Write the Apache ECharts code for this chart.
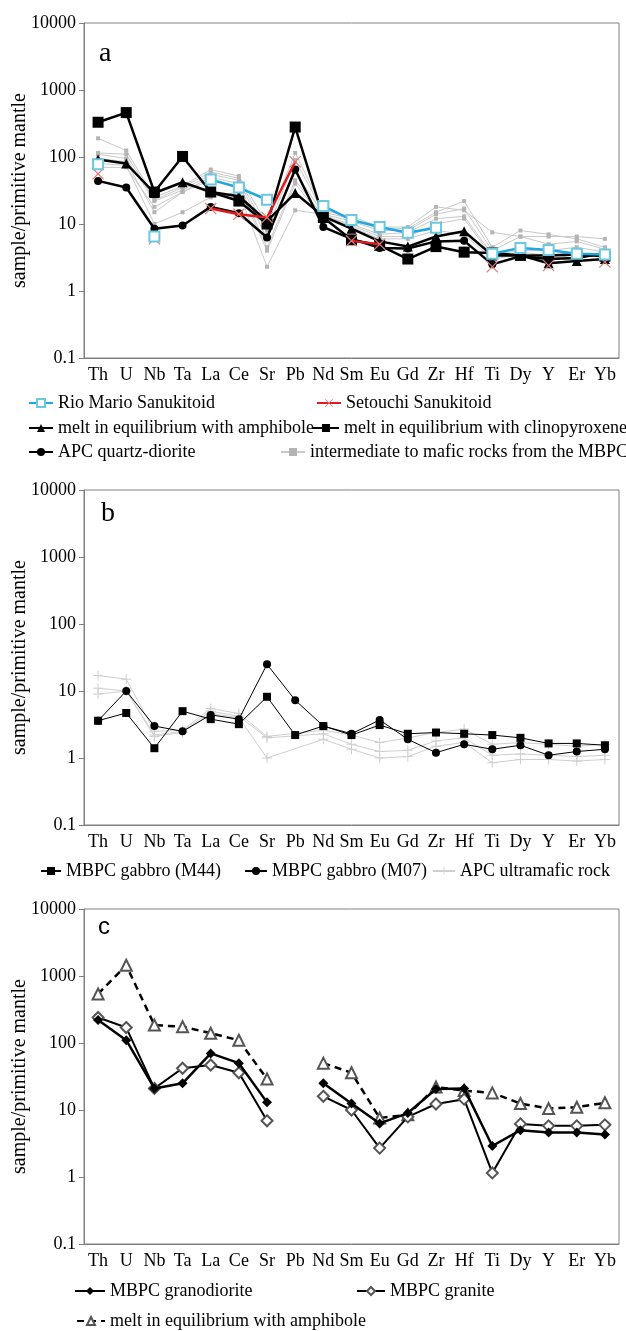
<!DOCTYPE html>
<html>
<head>
<meta charset="utf-8">
<script src="https://cdn.jsdelivr.net/npm/echarts@6/dist/echarts.min.js"></script>
<style>
  html, body { margin: 0; padding: 0; background: #fff; }
  #chart { width: 626px; height: 1331px; }
</style>
</head>
<body>
<div id="chart"></div>
<script>
// element order on the x axis
var elements = ['Th', 'U', 'Nb', 'Ta', 'La', 'Ce', 'Sr', 'Pb', 'Nd', 'Sm', 'Eu', 'Gd', 'Zr', 'Hf', 'Ti', 'Dy', 'Y', 'Er', 'Yb'];
var yTicks = [0.1, 1, 10, 100, 1000, 10000];

// panel a
var rioMario      = [78, null, 6.5, null, 46, 35, 23, null, 18.5, 11.5, 9, 7.4, 8.8, null, 3.6, 4.4, 4.1, 3.6, 3.5];
var setouchi      = [56, null, 6, null, 17, 14, 12.5, 85, null, 5.6, 5.0, null, 9, null, 2.3, null, 2.4, null, 2.7];
var amphMeltA     = [92, 80, 29, 42, 30, 26, 11, 29, 13, 8.5, 5.5, 4.6, 6.5, 7.8, 3.4, 3.4, 2.6, 2.8, 3.0];
var cpxMelt       = [330, 460, 30, 102, 30, 22, 10, 280, 12.5, 5.8, 4.8, 3.0, 4.6, 3.8, 3.7, 3.4, 3.4, 3.5, 3.3];
var apcQtzDiorite = [44, 35, 8.5, 9.5, 18, 14.5, 6.3, 65, 9, 6, 4.4, 4.3, 5.5, 5.6, 2.5, 3.3, 3.0, 3.1, 3.7];
var mbpcInter1    = [190, 125, 25, 37, 65, 52, 10, 115, 16, 13, 9, 9, 18, 16, 7.5, 6.5, 6.5, 6.5, 6.0];
var mbpcInter2    = [115, 110, 23, 35, 60, 48, 8, 90, 15, 12, 8.5, 8.5, 15, 22, 4.5, 8, 7, 6, 4.5];
var mbpcInter3    = [110, 95, 22, 32, 55, 45, 6, 60, 14, 11, 8, 8, 14, 17, 4, 6.5, 5, 5.5, 4.2];
var mbpcInter4    = [95, 85, 15, 30, 50, 40, 4.5, 45, 13, 10, 7, 7.5, 12, 13, 3.5, 4, 4, 4.5, 3.8];
var mbpcInter5    = [80, 75, 10, 15, 25, 30, 2.3, 16, 14, 9, 6, 6, 8, 7, 3, 3.5, 3, 3.5, 3.5];
var mbpcInter6    = [70, 70, 18, 30, 45, 35, 4, 40, 12, 9.5, 6.5, 6.5, 10, 12, 3.2, 3.8, 3.4, 3.8, 3.2];

// panel b
var gabbroM44  = [3.6, 4.7, 1.4, 5.0, 3.8, 3.2, 8.2, 2.2, 3.0, 2.2, 3.1, 2.3, 2.4, 2.3, 2.2, 2.0, 1.65, 1.65, 1.55];
var gabbroM07  = [3.6, 10, 3.0, 2.5, 4.4, 3.8, 25, 7.3, 3.0, 2.3, 3.7, 1.9, 1.2, 1.6, 1.35, 1.55, 1.1, 1.25, 1.35];
var apcUltra1  = [17, 15, 2.5, 2.6, 5.5, 4.6, 2.1, null, 2.6, 2.2, 1.7, 2.0, 2.4, 2.7, 1.6, 1.7, 1.6, 1.5, 1.6];
var apcUltra2  = [11, 10, 2.2, 2.5, 5.0, 4.2, 2.0, null, 2.3, 1.6, 1.25, 1.3, 1.8, 2.0, 1.1, 1.15, 1.1, 1.05, 1.1];
var apcUltra3  = [9, 10, 2.1, 2.4, 4.6, 4.0, 1.0, null, 1.9, 1.35, 1.0, 1.05, 1.5, 1.7, 0.85, 0.95, 0.95, 0.9, 0.95];

// panel c
var amphMeltC    = [540, 1450, 185, 175, 140, 110, 29, null, 50, 36, 7.6, 8.5, 22, 19.5, 18, 12.5, 10.5, 11, 12.8];
var granodiorite = [220, 110, 21, 25, 70, 50, 13, null, 25, 12.5, 6.3, 9, 20.5, 21, 2.9, 5.0, 4.6, 4.6, 4.3];
var granite      = [240, 170, 21, 42, 47, 36, 6.9, null, 16, 10, 2.7, 7.9, 12.3, 14.5, 1.15, 6.2, 5.8, 5.8, 6.0];

var serif = 'Liberation Serif';
var plusPath = 'path://M4.5,0h1v4.5h4.5v1h-4.5v4.5h-1v-4.5h-4.5v-1h4.5z';
var crossPath = 'path://M0,0.7L0.7,0L5,4.3L9.3,0L10,0.7L5.7,5L10,9.3L9.3,10L5,5.7L0.7,10L0,9.3L4.3,5Z';

var myChart = echarts.init(document.getElementById('chart'));

var tops = [23, 490, 909];

function makeGrid(top) {
    return {
        left: 84, right: 7, top: top, height: 335, show: true,
        borderColor: '#808080', borderWidth: 1,
        containLabel: false, outerBoundsMode: 'none'
    };
}

function makeX(i) {
    return {
        type: 'category', gridIndex: i, data: elements, boundaryGap: true,
        axisLine: { lineStyle: { color: '#808080' } },
        axisTick: { alignWithLabel: true, length: 5, lineStyle: { color: '#808080' } },
        axisLabel: { fontFamily: serif, fontSize: 18, color: '#000', margin: 8, interval: 0 },
        splitLine: { show: false }
    };
}

function makeY(i) {
    return {
        type: 'log', logBase: 10, gridIndex: i, min: yTicks[0], max: yTicks[yTicks.length - 1],
        splitNumber: 5,
        name: 'sample/primitive mantle', nameLocation: 'middle', nameGap: 54, nameMoveOverlap: false,
        nameTextStyle: { fontFamily: serif, fontSize: 20, color: '#000' },
        axisLine: { show: true, lineStyle: { color: '#808080' } },
        axisTick: { show: true, length: 5, lineStyle: { color: '#808080' } },
        axisLabel: {
            fontFamily: serif, fontSize: 18, color: '#000', margin: 8,
            formatter: function (v) {
                var k = Math.round(Math.log10(v));
                return k < 0 ? '0.1' : String(Math.pow(10, k));
            }
        },
        splitLine: { show: false }
    };
}

function line(name, data, i, opt) {
    var s = {
        name: name, type: 'line', xAxisIndex: i, yAxisIndex: i, data: data,
        connectNulls: !!opt.connect, animation: false,
        symbol: opt.symbol, symbolSize: opt.size,
        lineStyle: { color: opt.color, width: opt.width, type: opt.dash || 'solid' },
        itemStyle: { color: opt.fill || opt.color, borderWidth: opt.bw || 0 },
        z: opt.z || 2
    };
    if (opt.bw) s.itemStyle.borderColor = opt.fill || opt.color;
    return s;
}

function legendAt(name, left, top, w) {
    return {
        data: [name], left: left, top: top, padding: 0, itemWidth: w, itemHeight: 10, itemGap: 7,
        selectedMode: false,
        textStyle: { fontFamily: serif, fontSize: 18, color: '#000' },
        formatter: function (n) { return n.replace(' (c)', ''); }
    };
}

var interName = 'intermediate to mafic rocks from the MBPC';
var interStyle = { symbol: 'rect', size: 4, color: '#c8c8c8', fill: '#b4b4b4', width: 1, z: 1 };
var ultraName = 'APC ultramafic rock';
var ultraStyle = { symbol: plusPath, size: 10, color: '#cfcfcf', width: 1, z: 1 };

var series = [
    line(interName, mbpcInter1, 0, interStyle),
    line(interName, mbpcInter2, 0, interStyle),
    line(interName, mbpcInter3, 0, interStyle),
    line(interName, mbpcInter4, 0, interStyle),
    line(interName, mbpcInter5, 0, interStyle),
    line(interName, mbpcInter6, 0, interStyle),
    line('melt in equilibrium with amphibole', amphMeltA, 0, { symbol: 'triangle', size: 10, color: '#000', width: 2.5, z: 3 }),
    line('melt in equilibrium with clinopyroxene', cpxMelt, 0, { symbol: 'rect', size: 11, color: '#000', width: 2.5, z: 3 }),
    line('APC quartz-diorite', apcQtzDiorite, 0, { symbol: 'circle', size: 8, color: '#000', width: 2.5, z: 3 }),
    line('Setouchi Sanukitoid', setouchi, 0, { symbol: crossPath, size: 12, color: '#e31a1c', fill: '#e07a7a', width: 2.5, z: 4 }),
    line('Rio Mario Sanukitoid', rioMario, 0, { symbol: 'emptyRect', size: 10, color: '#1ea7e1', fill: '#6cc7e0', bw: 1, width: 2.5, z: 5 }),

    line(ultraName, apcUltra1, 1, Object.assign({ connect: true }, ultraStyle)),
    line(ultraName, apcUltra2, 1, Object.assign({ connect: true }, ultraStyle)),
    line(ultraName, apcUltra3, 1, Object.assign({ connect: true }, ultraStyle)),
    line('MBPC gabbro (M44)', gabbroM44, 1, { symbol: 'rect', size: 8, color: '#000', width: 1, z: 3 }),
    line('MBPC gabbro (M07)', gabbroM07, 1, { symbol: 'circle', size: 8, color: '#000', width: 1, z: 3 }),

    line('melt in equilibrium with amphibole (c)', amphMeltC, 2, { symbol: 'emptyTriangle', size: 11, color: '#000', fill: '#555', bw: 1, width: 2.5, dash: [7, 5], z: 2 }),
    line('MBPC granite', granite, 2, { symbol: 'emptyDiamond', size: 11, color: '#000', fill: '#555', bw: 1, width: 2, z: 3 }),
    line('MBPC granodiorite', granodiorite, 2, { symbol: 'diamond', size: 10, color: '#000', width: 2.5, z: 4 })
];

var option = {
    backgroundColor: '#fff',
    animation: false,
    grid: [makeGrid(tops[0]), makeGrid(tops[1]), makeGrid(tops[2])],
    xAxis: [makeX(0), makeX(1), makeX(2)],
    yAxis: [makeY(0), makeY(1), makeY(2)],
    legend: [
        legendAt('Rio Mario Sanukitoid', 28, 394, 24),
        legendAt('Setouchi Sanukitoid', 316, 394, 24),
        legendAt('melt in equilibrium with amphibole', 28, 419, 24),
        legendAt('melt in equilibrium with clinopyroxene', 312, 419, 26),
        legendAt('APC quartz-diorite', 28, 443, 24),
        legendAt(interName, 280, 443, 24),
        legendAt('MBPC gabbro (M44)', 40, 862, 20),
        legendAt('MBPC gabbro (M07)', 244, 862, 22),
        legendAt(ultraName, 432, 862, 22),
        legendAt('MBPC granodiorite', 74, 1282, 30),
        legendAt('MBPC granite', 356, 1282, 28),
        legendAt('melt in equilibrium with amphibole (c)', 76, 1312, 28)
    ],
    graphic: [
        { type: 'text', left: 99, top: 40, style: { text: 'a', font: '28px "Liberation Serif"', fill: '#000' } },
        { type: 'text', left: 101, top: 500, style: { text: 'b', font: '28px "Liberation Serif"', fill: '#000' } },
        { type: 'text', left: 98, top: 915, style: { text: 'c', font: '24px "Liberation Sans"', fill: '#000' } }
    ],
    series: series
};

myChart.setOption(option);
</script>
</body>
</html>
